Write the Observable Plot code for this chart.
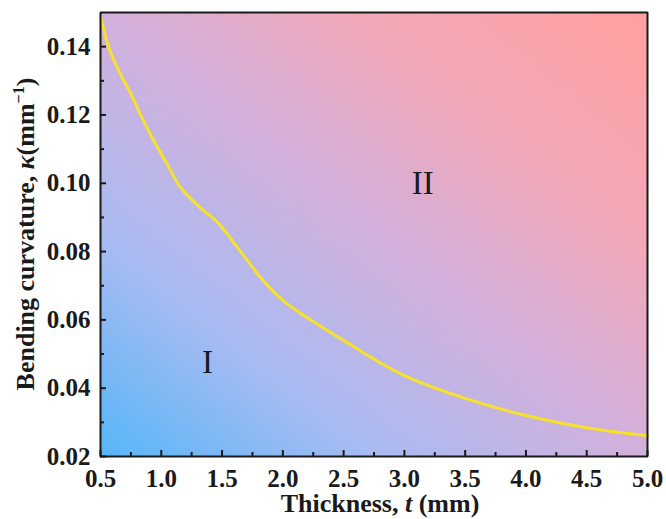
<!DOCTYPE html>
<html>
<head>
<meta charset="utf-8">
<script src="https://cdn.jsdelivr.net/npm/d3@7"></script>
<script src="https://cdn.jsdelivr.net/npm/@observablehq/plot@0.6"></script>
<style>
  html, body { margin: 0; padding: 0; background: #fff; }
  #wrap { position: relative; width: 666px; height: 519px; overflow: hidden; }
  #chart svg text { font-family: "Liberation Serif", "Times New Roman", serif; }
  .axt { position: absolute; left: 0; top: 0; font-family: "Liberation Serif", "Times New Roman", serif; font-weight: bold; font-size: 26px; line-height: 26px; height: 26px; color: #1a1a1a; text-align: center; white-space: nowrap; }
  .axt .sup { font-size: 16px; position: relative; top: -10px; }
  #xtitle { left: 180px; top: 491px; width: 400px; }
  #ytitle { width: 400px; transform-origin: 0 0; transform: translate(13px, 434px) rotate(-90deg); }
</style>
</head>
<body>
<div id="wrap">
  <div id="chart"></div>
  <div class="axt" id="xtitle">Thickness, <i>t</i> (mm)</div>
  <div class="axt" id="ytitle">Bending curvature, <i>κ</i>(mm<span class="sup">−1</span>)</div>
</div>
<script>
// Boundary curve (thickness t in mm, bending curvature kappa in 1/mm)
const thickness = [0.5, 0.566, 0.65, 0.75, 0.83, 0.95, 1.05, 1.158, 1.322, 1.429, 1.511, 1.594, 1.709, 1.816, 2.0, 2.25, 2.5, 2.75, 3.0, 3.5, 4.0, 4.5, 5.0];
const curvature = [0.149, 0.140, 0.133, 0.1262, 0.120, 0.1117, 0.1055, 0.0988, 0.0928, 0.0897, 0.0866, 0.0827, 0.0774, 0.0724, 0.0657, 0.0595, 0.054, 0.0485, 0.0437, 0.037, 0.032, 0.0284, 0.0261];

// Region labels
const regionNames = ["I", "II"];
const regionT = [1.38, 3.15];
const regionK = [0.0475, 0.0999];

// Ticks
const xMajor = [0.5, 1.0, 1.5, 2.0, 2.5, 3.0, 3.5, 4.0, 4.5, 5.0];
const xMinor = [0.75, 1.25, 1.75, 2.25, 2.75, 3.25, 3.75, 4.25, 4.75];
const yMajor = [0.02, 0.04, 0.06, 0.08, 0.10, 0.12, 0.14];
const yMinor = [0.03, 0.05, 0.07, 0.09, 0.11, 0.13];

// Background gradient stops (diagonal position -> colour)
const gradStops = [0, 0.25, 0.5, 0.75, 1];
const gradColors = ["#56b6f8", "#a9bbf2", "#d2b0dc", "#f4a7b6", "#ffa0a0"];

const xDomain = [0.5, 5.0];
const yDomain = [0.02, 0.15];

{
  const pts = thickness.map((t, i) => ({t, k: curvature[i]}));
  const regs = regionNames.map((n, i) => ({n, t: regionT[i], k: regionK[i]}));
  const box = [
    {t: xDomain[0], k: yDomain[0]}, {t: xDomain[1], k: yDomain[0]},
    {t: xDomain[1], k: yDomain[1]}, {t: xDomain[0], k: yDomain[1]},
    {t: xDomain[0], k: yDomain[0]}
  ];
  const ink = "#1a1a1a";
  const fam = "Liberation Serif";

  const plotEl = Plot.plot({
    width: 666,
    height: 519,
    marginLeft: 100,
    marginRight: 19,
    marginTop: 12,
    marginBottom: 63,
    x: {domain: xDomain, label: null},
    y: {domain: yDomain, label: null},
    color: {type: "linear", domain: gradStops, range: gradColors},
    marks: [
      Plot.raster({
        fill: (x, y) => ((x - xDomain[0]) / (xDomain[1] - xDomain[0]) + (y - yDomain[0]) / (yDomain[1] - yDomain[0])) / 2,
        x1: xDomain[0], x2: xDomain[1], y1: yDomain[0], y2: yDomain[1]
      }),
      Plot.line(pts, {x: "t", y: "k", stroke: "#f7e22a", strokeWidth: 3, curve: "catmull-rom"}),
      Plot.text(regs, {x: "t", y: "k", text: "n", fontSize: 33, fontFamily: fam, fill: ink}),
      // inward ticks drawn as short rules at the axis edge
      Plot.ruleX(xMajor, {x: d => d, y1: yDomain[0], y2: yDomain[0], insetTop: -6, stroke: ink, strokeWidth: 2}),
      Plot.ruleX(xMinor, {x: d => d, y1: yDomain[0], y2: yDomain[0], insetTop: -4, stroke: ink, strokeWidth: 2}),
      Plot.ruleY(yMajor, {y: d => d, x1: xDomain[0], x2: xDomain[0], insetRight: -6, stroke: ink, strokeWidth: 2}),
      Plot.ruleY(yMinor, {y: d => d, x1: xDomain[0], x2: xDomain[0], insetRight: -4, stroke: ink, strokeWidth: 2}),
      // box around the plotting area
      Plot.line(box, {x: "t", y: "k", stroke: ink, strokeWidth: 2, strokeLinejoin: "miter"}),
      // tick labels
      Plot.axisX({ticks: xMajor, tickSize: 0, tickPadding: 13, tickFormat: d3.format(".1f"), fill: ink, fontSize: 25, fontWeight: "bold", fontFamily: fam, label: null}),
      Plot.axisY({ticks: yMajor, tickSize: 0, tickPadding: 10, tickFormat: d3.format(".2f"), fill: ink, fontSize: 25, fontWeight: "bold", fontFamily: fam, label: null})
    ]
  });

  document.getElementById("chart").appendChild(plotEl);
}
</script>
</body>
</html>
